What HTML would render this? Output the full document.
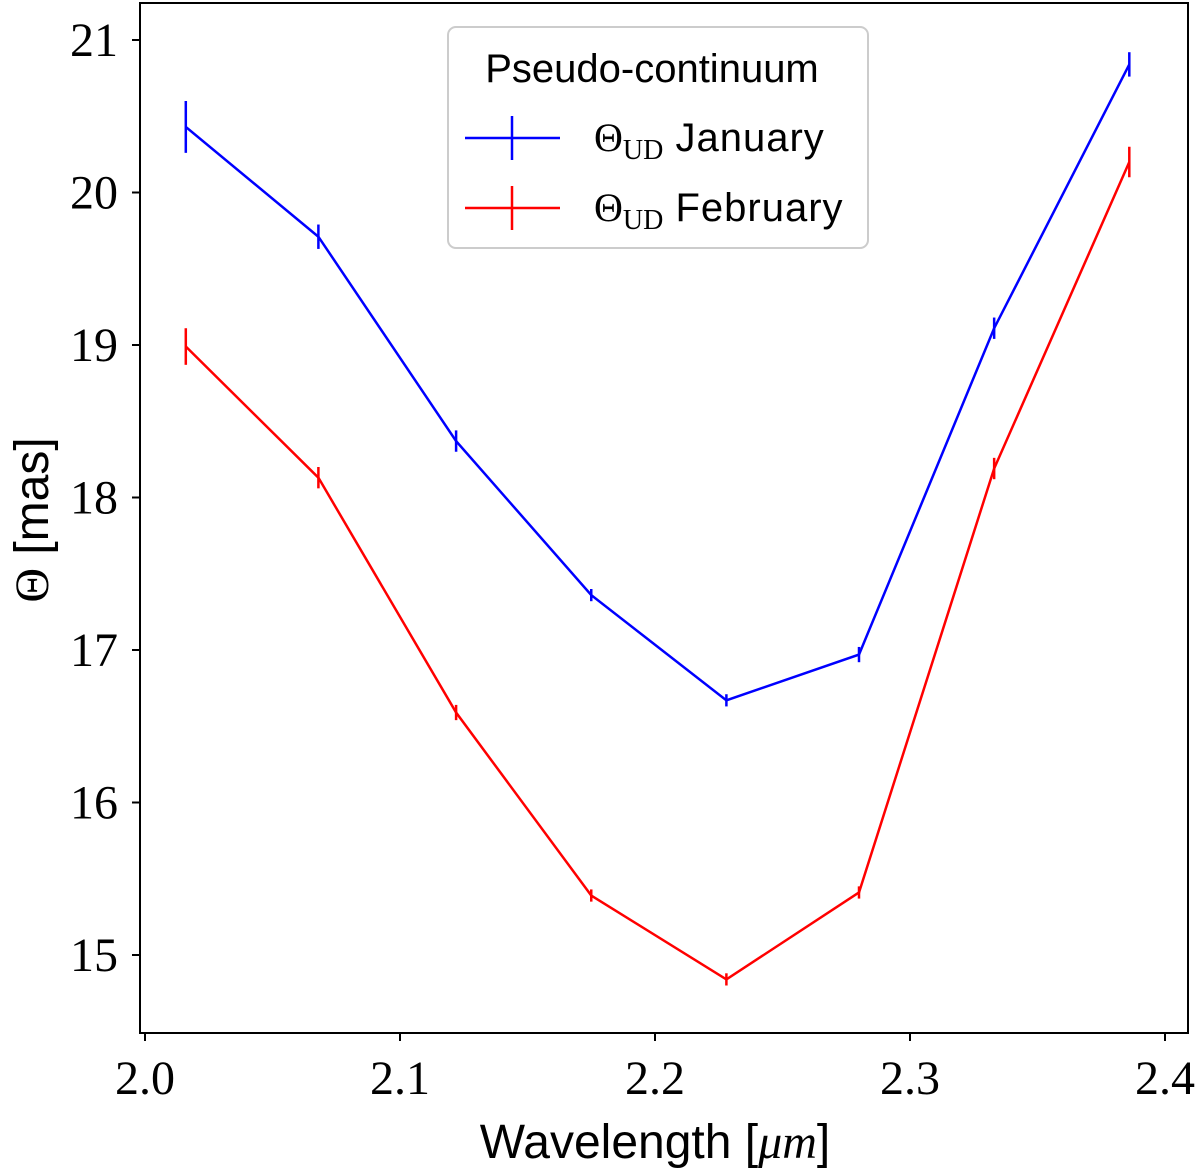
<!DOCTYPE html>
<html><head><meta charset="utf-8"><style>
body{margin:0;background:#fff;}
svg{display:block;}
</style></head><body>
<svg id="chart" width="1200" height="1174" xmlns="http://www.w3.org/2000/svg">
<rect x="140" y="3" width="1048" height="1030" fill="none" stroke="#000" stroke-width="2"/>
<g id="xt"></g><g id="yt"></g><g id="series"></g>
<text x="655" y="1158" text-anchor="middle" font-family="Liberation Sans, sans-serif" font-size="48">Wavelength [<tspan font-family="Liberation Serif, serif" font-style="italic">μm</tspan>]</text>
<text transform="translate(48,520) rotate(-90)" text-anchor="middle" font-family="Liberation Sans, sans-serif" font-size="48"><tspan font-family="Liberation Serif, serif">Θ</tspan> [mas]</text>
<g>
<rect x="448" y="27" width="420" height="221" rx="8" fill="#fff" fill-opacity="0.8" stroke="#ccc" stroke-width="2"/>
<text x="652" y="82" text-anchor="middle" font-family="Liberation Sans, sans-serif" font-size="40">Pseudo-continuum</text>
<g>
<line x1="465" y1="138" x2="560" y2="138" stroke="#0000ff" stroke-width="2.5"/><line x1="512" y1="116" x2="512" y2="160" stroke="#0000ff" stroke-width="2.5"/>
<text x="594" y="151" font-family="Liberation Serif, serif" font-size="40">Θ<tspan font-size="28" dy="8">UD</tspan><tspan dy="-8" font-family="Liberation Sans, sans-serif" font-size="40" letter-spacing="1"> January</tspan></text></g>
<g>
<line x1="465" y1="208" x2="560" y2="208" stroke="#ff0000" stroke-width="2.5"/><line x1="512" y1="186" x2="512" y2="230" stroke="#ff0000" stroke-width="2.5"/>
<text x="594" y="221" font-family="Liberation Serif, serif" font-size="40">Θ<tspan font-size="28" dy="8">UD</tspan><tspan dy="-8" font-family="Liberation Sans, sans-serif" font-size="40" letter-spacing="1"> February</tspan></text></g>
</g>
</svg>
<script>
const wavelengths=[2.016,2.068,2.122,2.175,2.228,2.280,2.333,2.386];
const january=[20.43,19.71,18.37,17.36,16.67,16.97,19.11,20.84];
const januaryErr=[0.17,0.08,0.07,0.04,0.04,0.05,0.07,0.08];
const february=[18.99,18.13,16.59,15.39,14.84,15.41,18.19,20.20];
const februaryErr=[0.12,0.07,0.05,0.04,0.04,0.04,0.07,0.10];
const xTicks=["2.0","2.1","2.2","2.3","2.4"];
const yTicks=["15","16","17","18","19","20","21"];
const NS="http://www.w3.org/2000/svg";
const xs=v=>145+(v-2.0)*2550;
const ys=v=>955-(v-15)*152.5;
function mk(t,a,p){const e=document.createElementNS(NS,t);for(const k in a)e.setAttribute(k,a[k]);p.appendChild(e);return e;}
const xt=document.getElementById('xt'),yt=document.getElementById('yt'),sg=document.getElementById('series');
xTicks.forEach(l=>{const x=xs(parseFloat(l));
const t=mk('line',{x1:x,y1:1033,x2:x,y2:1041,stroke:'#000','stroke-width':2},xt);

const tx=mk('text',{x:x,y:1094,'text-anchor':'middle','font-family':'Liberation Serif, serif','font-size':48},xt);tx.textContent=l;
});
yTicks.forEach(l=>{const y=ys(parseFloat(l));
const t=mk('line',{x1:132,y1:y,x2:140,y2:y,stroke:'#000','stroke-width':2},yt);

const tx=mk('text',{x:118,y:y+16,'text-anchor':'end','font-family':'Liberation Serif, serif','font-size':48},yt);tx.textContent=l;
});
function series(vals,errs,color,name){
const g=mk('g',{},sg);

const pl=mk('polyline',{points:vals.map((v,i)=>xs(wavelengths[i])+','+ys(v)).join(' '),fill:'none',stroke:color,'stroke-width':2.5},g);

vals.forEach((v,i)=>{const x=xs(wavelengths[i]);
const e=mk('line',{x1:x,y1:ys(v+errs[i]),x2:x,y2:ys(v-errs[i]),stroke:color,'stroke-width':2.5},g);
});}
series(january,januaryErr,'#0000ff','series-january');
series(february,februaryErr,'#ff0000','series-february');
</script>
</body></html>
